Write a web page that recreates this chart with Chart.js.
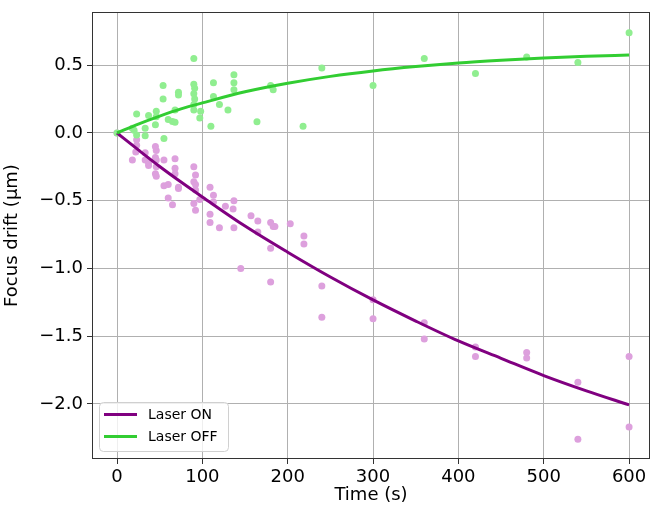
<!DOCTYPE html>
<html>
<head>
<meta charset="utf-8">
<script src="https://cdn.jsdelivr.net/npm/chart.js@4/dist/chart.umd.min.js"></script>
<style>
html,body{margin:0;padding:0;background:#fff;overflow:hidden;}
#c{display:block;}
</style>
</head>
<body>
<canvas id="c" width="654" height="506"></canvas>
<script>
// Scatter data: time (s) and focus drift (µm)
const offTimes = [0,18,20,23,23,33,33,37,45,46,46,54,54,55,60,65,68,68,72,72,90,90,91,90,91,90,90,98,97,110,113,113,120,130,137,137,137,164,180,183,218,240,300,360,420,480,540,600];
const offDrift = [0,0.035,0.02,0.14,-0.015,0.035,-0.02,0.13,0.06,0.16,0.12,0.35,0.25,-0.04,0.10,0.085,0.17,0.08,0.30,0.28,0.55,0.36,0.33,0.29,0.25,0.21,0.17,0.16,0.11,0.05,0.37,0.27,0.21,0.17,0.43,0.37,0.32,0.083,0.35,0.32,0.05,0.48,0.35,0.55,0.44,0.56,0.52,0.74];

const onTimes = [0,18,22,23,23,33,33,37,37,45,46,45,46,46,45,46,55,55,60,60,65,68,68,68,72,72,90,92,90,92,92,90,92,97,109,113,113,109,109,120,127,136,137,137,145,157,165,165,180,183,185,180,180,203,219,219,240,240,300,300,360,360,420,420,480,480,540,540,600,600];
const onDrift = [0,-0.20,-0.14,-0.05,-0.09,-0.145,-0.20,-0.22,-0.24,-0.10,-0.13,-0.18,-0.20,-0.25,-0.30,-0.32,-0.20,-0.39,-0.38,-0.48,-0.53,-0.19,-0.26,-0.30,-0.40,-0.41,-0.25,-0.31,-0.36,-0.38,-0.42,-0.52,-0.57,-0.49,-0.40,-0.46,-0.51,-0.60,-0.66,-0.70,-0.54,-0.56,-0.50,-0.70,-1.00,-0.61,-0.65,-0.73,-0.66,-0.69,-0.69,-0.85,-1.10,-0.67,-0.76,-0.82,-1.13,-1.36,-1.23,-1.37,-1.40,-1.52,-1.58,-1.65,-1.62,-1.66,-1.84,-2.26,-1.65,-2.17];

// Fitted curves
const fitTimes = [0,25,50,75,100,150,200,250,300,350,400,450,500,550,600];
const fitOn  = [0,-0.125,-0.247,-0.362,-0.472,-0.687,-0.880,-1.063,-1.232,-1.388,-1.535,-1.663,-1.790,-1.903,-2.007];
const fitOff = [0,0.066,0.125,0.178,0.222,0.304,0.367,0.418,0.458,0.490,0.516,0.536,0.553,0.566,0.576];

const xTicks = [0,100,200,300,400,500,600];
const yTicks = [-2.0,-1.5,-1.0,-0.5,0.0,0.5];
const legendLabels = ['Laser ON','Laser OFF'];

const zip = (xs, ys) => xs.map((x,i)=>({x:x, y:ys[i]}));
const FONT = "'DejaVu Sans', sans-serif";

const frameAndLegend = {
  id:'frameAndLegend',
  afterDatasetsDraw(chart){
    const {ctx, chartArea:a} = chart;
    ctx.save();
    ctx.strokeStyle = '#333';
    ctx.lineWidth = 1;
    ctx.strokeRect(a.left+0.5, a.top+0.5, a.right-a.left-1, a.bottom-a.top-1);
    // legend box
    const bx=99.5, by=402.5, bw=129, bh=49, r=4;
    ctx.beginPath();
    ctx.moveTo(bx+r,by);
    ctx.arcTo(bx+bw,by,bx+bw,by+bh,r);
    ctx.arcTo(bx+bw,by+bh,bx,by+bh,r);
    ctx.arcTo(bx,by+bh,bx,by,r);
    ctx.arcTo(bx,by,bx+bw,by,r);
    ctx.closePath();
    ctx.fillStyle='rgba(255,255,255,0.8)';
    ctx.fill();
    ctx.strokeStyle='#d0d0d0';
    ctx.stroke();
    const cols=['#800080','#32cd32'];
    const ys=[414.5,436.5];
    ctx.font = "14px " + FONT;
    ctx.textBaseline='middle';
    for(let i=0;i<2;i++){
      ctx.beginPath();
      ctx.moveTo(104,ys[i]); ctx.lineTo(137,ys[i]);
      ctx.strokeStyle=cols[i]; ctx.lineWidth=3; ctx.stroke();
      ctx.fillStyle='#000';
      ctx.fillText(legendLabels[i],148,ys[i]+1);
    }
    ctx.restore();
  }
};

new Chart(document.getElementById('c'), {
  type:'scatter',
  data:{
    datasets:[
      {label:'on pts', data:zip(onTimes,onDrift), backgroundColor:'#dda0dd', borderColor:'#dda0dd', pointRadius:3.5, pointBorderWidth:0, order:3},
      {label:'off pts', data:zip(offTimes,offDrift), backgroundColor:'#90ee90', borderColor:'#90ee90', pointRadius:3.5, pointBorderWidth:0, order:2},
      {label:legendLabels[0], data:zip(fitTimes,fitOn), showLine:true, borderColor:'#800080', borderWidth:3, pointRadius:0, cubicInterpolationMode:'monotone', order:1},
      {label:legendLabels[1], data:zip(fitTimes,fitOff), showLine:true, borderColor:'#32cd32', borderWidth:3, pointRadius:0, cubicInterpolationMode:'monotone', order:0}
    ]
  },
  options:{
    responsive:false,
    animation:false,
    devicePixelRatio:1,
    layout:{padding:{top:12,right:1,left:0,bottom:0}},
    plugins:{legend:{display:false}, tooltip:{enabled:false}},
    scales:{
      x:{
        type:'linear', min:-29.3, max:624.5,
        afterBuildTicks(s){ s.ticks = xTicks.map(v=>({value:v})); },
        afterFit(s){ s.height = 47; s.paddingLeft = 0; s.paddingRight = 0; },
        ticks:{font:{family:FONT,size:18}, color:'#000', padding:3, maxRotation:0, callback:v=>String(v)},
        grid:{color:'#b0b0b0', lineWidth:1, drawTicks:true, tickLength:5, tickColor:'#333'},
        border:{display:false},
        title:{display:true, text:'Time (s)', font:{family:FONT,size:18}, color:'#000', padding:{top:0,bottom:0}}
      },
      y:{
        type:'linear', min:-2.406, max:0.893,
        afterBuildTicks(s){ s.ticks = yTicks.map(v=>({value:v})); },
        afterFit(s){ s.width = 92; s.paddingTop = 0; s.paddingBottom = 0; },
        ticks:{font:{family:FONT,size:18}, color:'#000', padding:4, callback:v=>(v<0?'\u2212':'')+Math.abs(v).toFixed(1)},
        grid:{color:'#b0b0b0', lineWidth:1, drawTicks:true, tickLength:5, tickColor:'#333'},
        border:{display:false},
        title:{display:true, text:'Focus drift (\u03bcm)', font:{family:FONT,size:18}, color:'#000', padding:{top:2,bottom:0}}
      }
    }
  },
  plugins:[frameAndLegend]
});
</script>
</body>
</html>
